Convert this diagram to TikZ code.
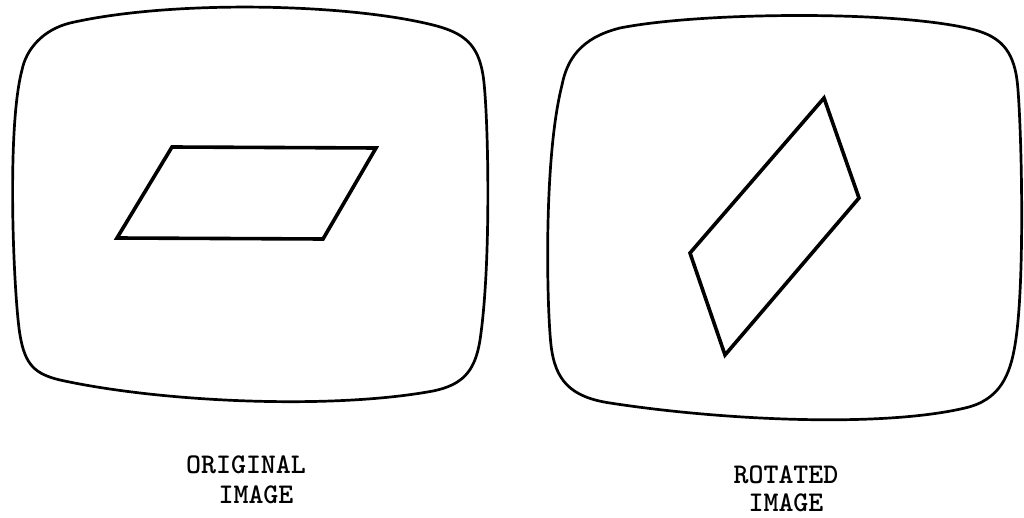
\documentclass[tikz,border=0pt]{standalone}
\usepackage{fontspec}
\newfontfamily\typewriter{Latin Modern Mono Light}
\begin{document}
\begin{tikzpicture}[x=1pt,y=-1pt,
  screen/.style={line width=2.7pt, line join=round},
  shapeline/.style={line width=3.6pt, line join=miter},
  caption/.style={font=\typewriter\bfseries\fontsize{28.5}{32}\selectfont, inner sep=0pt, anchor=center}]
\useasboundingbox (0,0) rectangle (1024,518);
% left screen
\draw[screen] (70,23) .. controls (170,0) and (345,3) .. (433,25)
  .. controls (465,33) and (478,45) .. (483,75)
  .. controls (488,105) and (492,260) .. (480,340)
  .. controls (475,372) and (462,385) .. (433,391)
  .. controls (330,410) and (160,402) .. (60,380)
  .. controls (35,374) and (25,365) .. (20,335)
  .. controls (14,300) and (6,130) .. (22,70)
  .. controls (26,50) and (42,30) .. (70,23) -- cycle;
% right screen
\draw[screen] (620,28) .. controls (700,12) and (900,10) .. (975,30)
  .. controls (1000,37) and (1013,50) .. (1017,80)
  .. controls (1021,110) and (1026,280) .. (1015,345)
  .. controls (1010,375) and (1000,400) .. (965,408)
  .. controls (880,428) and (720,420) .. (610,403)
  .. controls (570,397) and (555,380) .. (551,345)
  .. controls (547,310) and (543,160) .. (562,85)
  .. controls (567,60) and (580,38) .. (620,28) -- cycle;
% original parallelogram
\draw[shapeline] (172,147) -- (376,148) -- (323,239) -- (117,238) -- cycle;
% rotated parallelogram
\draw[shapeline] (824,98) -- (859,198) -- (725,355) -- (690,253) -- cycle;
% captions
\node[caption] (o1) at (246,465) {ORIGINAL};
\node[caption] (o2) at (256,495) {IMAGE};
\node[caption] (r1) at (786,475) {ROTATED};
\node[caption] (r2) at (786,503) {IMAGE};
\end{tikzpicture}
\end{document}
